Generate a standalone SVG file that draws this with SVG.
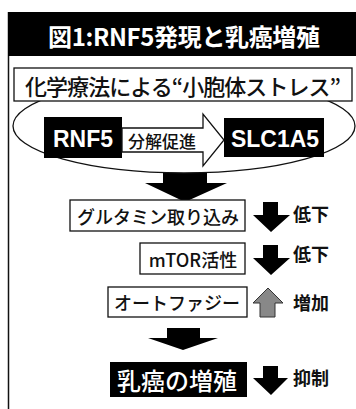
<svg xmlns="http://www.w3.org/2000/svg" width="356" height="409" viewBox="0 0 356 409">
<style>
.jp{font-family:"Noto Sans CJK JP","Noto Sans",sans-serif;}
.box{fill:#fff;stroke:#111;stroke-width:1.3;}
.blk{fill:#000;}
.arr{fill:#000;}
.t{font-size:18px;font-weight:500;fill:#111;dominant-baseline:central;}
.side{font-size:18px;font-weight:bold;fill:#111;dominant-baseline:central;}
</style>
<rect width="356" height="409" fill="#fff"/>
<g id="frame">
<line x1="8.5" y1="12" x2="8.5" y2="409" stroke="#111" stroke-width="1.5"/>
<rect x="8" y="12" width="350" height="44" fill="#000"/>
<text class="jp" x="184" y="35" text-anchor="middle" font-size="24" font-weight="bold" fill="#fff" dominant-baseline="central" textLength="272" lengthAdjust="spacing">図1:RNF5発現と乳癌増殖</text>
</g>
<g id="connectors">
<path class="arr" d="M163,166 H207 V183 H227 L185,202 L145,183 H163 Z"/>
<path class="arr" d="M167,328 H200 V338 H218 L183,350 L148,338 H167 Z"/>
</g>
<g id="stress-ellipse">
<ellipse cx="184" cy="126" rx="171" ry="47" fill="#fff" stroke="#111" stroke-width="1.3"/>
</g>
<g id="stress">
<rect class="box" x="14" y="68" width="338" height="33"/>
<text class="jp" x="183" y="85" text-anchor="middle" font-size="22" font-weight="500" fill="#111" dominant-baseline="central" textLength="316" lengthAdjust="spacing">化学療法による“小胞体ストレス”</text>
</g>
<g id="rnf5">
<rect class="blk" x="44" y="117" width="78" height="41"/>
<text x="83" y="138" text-anchor="middle" font-family="'Liberation Sans',sans-serif" font-weight="bold" font-size="24" fill="#fff" dominant-baseline="central" textLength="60" lengthAdjust="spacingAndGlyphs">RNF5</text>
</g>
<g id="promote">
<path d="M122,128 H203 V114 L224,140 L203,166 V152 H122 Z" fill="#fff" stroke="#111" stroke-width="1.3"/>
<text class="jp" x="162" y="140" text-anchor="middle" font-size="17" font-weight="500" fill="#111" dominant-baseline="central">分解促進</text>
</g>
<g id="slc1a5">
<rect class="blk" x="224" y="118" width="100" height="39"/>
<text x="275" y="138" text-anchor="middle" font-family="'Liberation Sans',sans-serif" font-weight="bold" font-size="24" fill="#fff" dominant-baseline="central" textLength="88" lengthAdjust="spacingAndGlyphs">SLC1A5</text>
</g>
<g id="glutamine">
<rect class="box" x="70" y="200" width="175" height="31"/>
<text class="jp t" x="158" y="215.5" text-anchor="middle">グルタミン取り込み</text>
<path class="arr" d="M263,202 H278 V215 H290 L271,232 L253,215 H263 Z"/>
<text class="jp side" x="293" y="213">低下</text>
</g>
<g id="mtor">
<rect class="box" x="140" y="243" width="105" height="31"/>
<text class="jp t" x="193" y="258.5" text-anchor="middle">mTOR活性</text>
<path class="arr" d="M263,245 H278 V258 H290 L271,275 L253,258 H263 Z"/>
<text class="jp side" x="293" y="253">低下</text>
</g>
<g id="autophagy">
<rect class="box" x="108" y="287" width="139" height="30"/>
<text class="jp t" x="177" y="302" text-anchor="middle">オートファジー</text>
<path d="M260,317 H275 V303 H283 L268,288 L253,303 H260 Z" fill="#888" stroke="#333" stroke-width="1"/>
<text class="jp side" x="293" y="302">増加</text>
</g>
<g id="proliferation">
<rect class="blk" x="110" y="362" width="137" height="35"/>
<text class="jp" x="177" y="379" text-anchor="middle" font-size="24" font-weight="500" fill="#fff" dominant-baseline="central">乳癌の増殖</text>
<path class="arr" d="M263,366 H278 V378 H288 L271,395 L253,378 H263 Z"/>
<text class="jp side" x="293" y="377">抑制</text>
</g>
</svg>
